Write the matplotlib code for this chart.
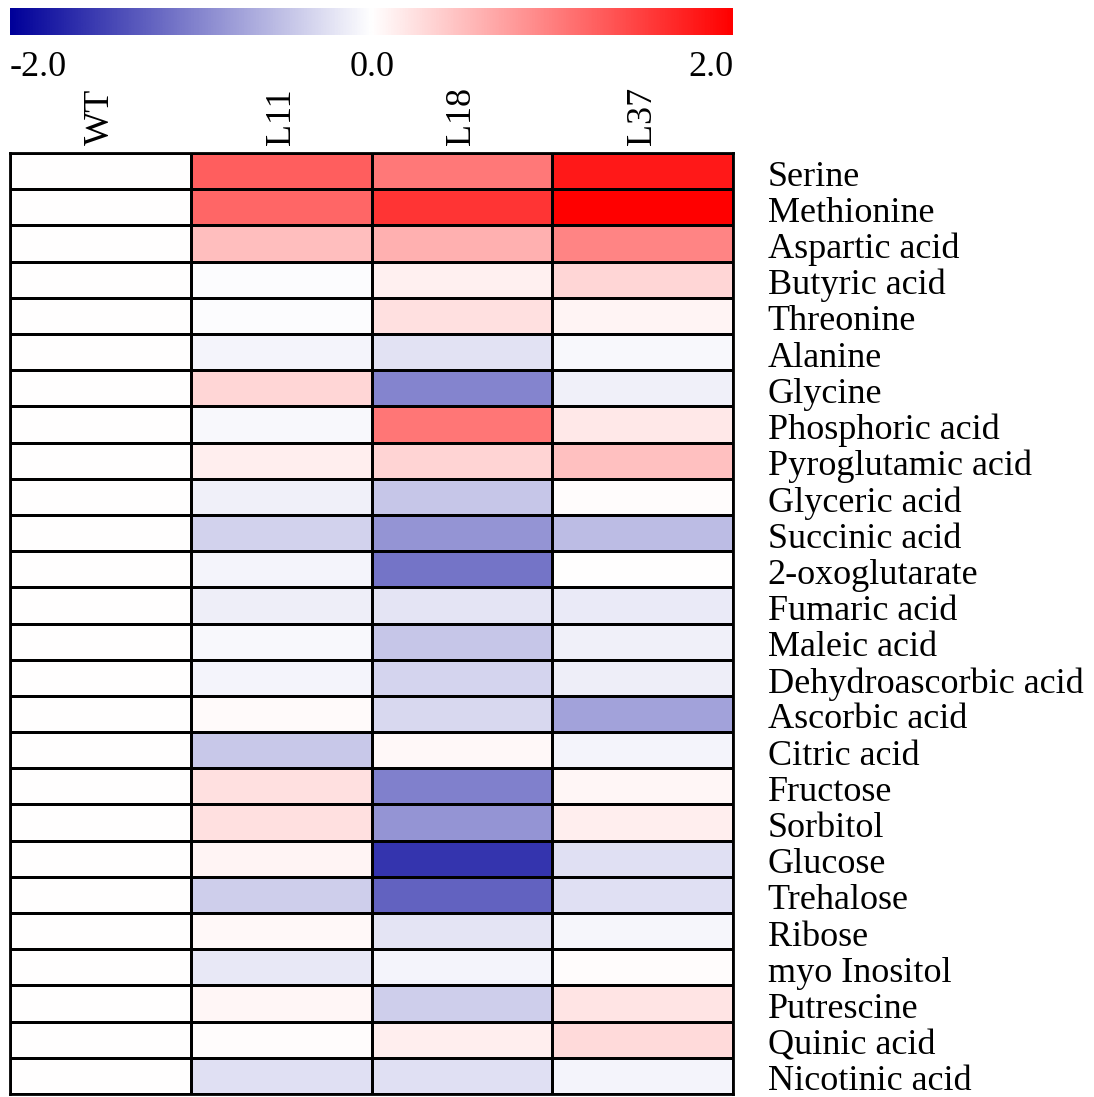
import numpy as np
import matplotlib
matplotlib.use('Agg')
import matplotlib.pyplot as plt
import matplotlib.transforms as mtransforms
from matplotlib.colors import LinearSegmentedColormap, Normalize

samples = ['WT', 'L11', 'L18', 'L37']
metabolites = ['Serine', 'Methionine', 'Aspartic acid', 'Butyric acid', 'Threonine',
               'Alanine', 'Glycine', 'Phosphoric acid', 'Pyroglutamic acid',
               'Glyceric acid', 'Succinic acid', '2-oxoglutarate', 'Fumaric acid',
               'Maleic acid', 'Dehydroascorbic acid', 'Ascorbic acid', 'Citric acid',
               'Fructose', 'Sorbitol', 'Glucose', 'Trehalose', 'Ribose',
               'myo Inositol', 'Putrescine', 'Quinic acid', 'Nicotinic acid']

# log2 fold change relative to WT
wt = [0.0] * 26
l11 = [1.25, 1.20, 0.50, -0.03, -0.03, -0.09, 0.32, -0.06, 0.14, -0.12, -0.35, -0.09, -0.14,
       -0.06, -0.09, 0.04, -0.43, 0.24, 0.24, 0.09, -0.38, 0.05, -0.18, 0.07, 0.02, -0.24]
l18 = [1.06, 1.58, 0.62, 0.12, 0.24, -0.23, -0.96, 1.07, 0.33, -0.45, -0.84, -1.08, -0.21,
       -0.45, -0.33, -0.30, 0.05, -1.00, -0.83, -1.58, -1.23, -0.21, -0.09, -0.38, 0.13, -0.24]
l37 = [1.81, 2.00, 0.96, 0.32, 0.09, -0.05, -0.12, 0.18, 0.49, 0.02, -0.53, 0.0, -0.17,
       -0.12, -0.13, -0.73, -0.08, 0.07, 0.13, -0.25, -0.25, -0.07, 0.02, 0.21, 0.29, -0.08]

data = np.array([wt, l11, l18, l37]).T

cmap = LinearSegmentedColormap.from_list('bwr2', ['#000099', '#ffffff', '#ff0000'])
norm = Normalize(vmin=-2, vmax=2)

W, H = 1094, 1097
fig = plt.figure(figsize=(W / 100, H / 100), dpi=100)
plt.rcParams['font.family'] = ['Liberation Serif', 'DejaVu Serif']
FS = 26


def px_axes(x0, y0, x1, y1):
    return fig.add_axes([x0 / W, 1 - y1 / H, (x1 - x0) / W, (y1 - y0) / H])


# heatmap
ax = px_axes(10, 153, 733, 1094)
ax.pcolormesh(data, cmap=cmap, norm=norm, edgecolors='black', linewidth=2.1)
ax.set_xlim(0, len(samples))
ax.set_ylim(len(metabolites), 0)
ax.set_xticks(np.arange(len(samples)) + 0.5)
ax.set_xticklabels(samples, rotation=90, fontsize=FS)
ax.xaxis.tick_top()
ax.set_yticks(np.arange(len(metabolites)) + 0.5)
ax.set_yticklabels(metabolites, fontsize=FS, va='center')
ax.yaxis.tick_right()
ax.tick_params(length=0)
ax.tick_params(axis='x', pad=6)
ax.tick_params(axis='y', pad=25)
# labels sit a little below the row centre in the original
shift = mtransforms.ScaledTranslation(0, -6 / 100, fig.dpi_scale_trans)
for lbl in ax.get_yticklabels():
    lbl.set_transform(lbl.get_transform() + shift)
for s in ax.spines.values():
    s.set_linewidth(2)
    s.set_color('black')

# colour bar
cax = px_axes(10, 8, 733, 35)
grad = np.linspace(-2, 2, 512).reshape(1, -1)
cax.imshow(grad, aspect='auto', cmap=cmap, norm=norm, extent=[-2, 2, 0, 1])
cax.set_xticks([])
cax.set_yticks([])
for s in cax.spines.values():
    s.set_visible(False)
fig.text(10 / W, 1 - 68 / H, '-2.0', ha='left', va='center', fontsize=FS)
fig.text(372 / W, 1 - 68 / H, '0.0', ha='center', va='center', fontsize=FS)
fig.text(733 / W, 1 - 68 / H, '2.0', ha='right', va='center', fontsize=FS)

fig.savefig('out.png', dpi=100)
